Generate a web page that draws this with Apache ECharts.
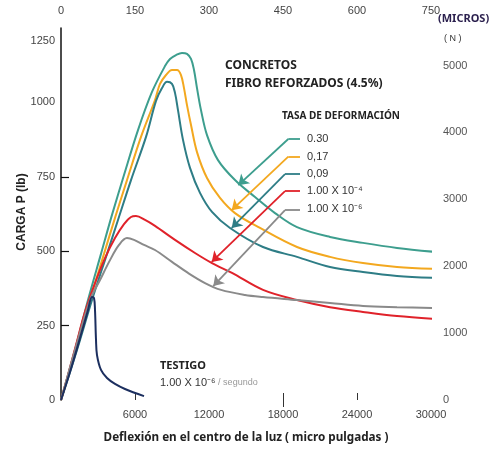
<!DOCTYPE html>
<html>
<head>
<meta charset="utf-8">
<script src="https://cdn.jsdelivr.net/npm/echarts@6/dist/echarts.min.js"></script>
<style>
html,body{margin:0;padding:0;background:#fff;}
#c{width:498px;height:449px;}
</style>
</head>
<body>
<div id="c"></div>
<script>
// ---- data (deflexión en micro pulgadas, carga en lb) ----
const xTickLabels = [6000, 12000, 18000, 24000, 30000];
const topTickLabels = [0, 150, 300, 450, 600, 750];
const yTickLabels = [0, 250, 500, 750, 1000, 1250];
const rightTickLabels = [0, 1000, 2000, 3000, 4000, 5000];

const rate030 = [[0,0],[1135,168],[2189,336],[3243,491],[4135,622],[5108,756],[6243,907],[7378,1035],[8432,1122],[8838,1146],[9324,1159],[9811,1166],[10216,1163],[10541,1146],[10784,1109],[11027,1048],[11351,974],[11838,890],[12730,806],[14108,739],[15730,682],[17351,628],[19135,581],[21811,548],[24486,528],[27243,511],[30486,497]];
const rate017 = [[0,0],[1216,168],[2351,336],[3486,491],[4378,612],[5351,739],[6486,884],[7622,1008],[8027,1062],[8513,1092],[9000,1109],[9405,1109],[9730,1092],[9973,1048],[10216,991],[10541,924],[11027,833],[11838,746],[12892,679],[14108,628],[16135,578],[19135,514],[21811,481],[24486,460],[27243,447],[30486,440]];
const rate009 = [[0,0],[1297,168],[2514,336],[3730,491],[4622,605],[5676,739],[6892,884],[7703,1005],[8189,1048],[8595,1069],[9000,1062],[9243,1032],[9486,974],[9892,874],[10459,780],[11270,696],[12243,632],[13703,578],[16378,514],[19135,481],[21811,447],[24486,430],[27243,417],[30486,410]];
const rateE4 = [[0,0],[568,84],[1216,185],[1946,296],[2757,393],[3568,477],[4378,544],[5108,591],[5676,615],[6081,618],[6811,605],[7622,585],[9243,538],[10865,494],[12243,460],[13865,427],[16378,370],[19135,336],[21811,312],[24486,296],[27243,282],[30486,272]];
const rateE6 = [[0,0],[1135,168],[2351,336],[3162,403],[3973,470],[4703,521],[5351,544],[5919,538],[6730,521],[7622,504],[8999,464],[10297,427],[11676,393],[12973,370],[14919,353],[16378,346],[19135,336],[21811,326],[24486,316],[27243,312],[30486,309]];
const testigo = [[0,0],[730,94],[1541,208],[2189,302],[2514,346],[2676,343],[2757,302],[2838,202],[2919,151],[3243,101],[3730,74],[4378,54],[5189,37],[6730,13]];

// leader lines for the rate labels: [start of horizontal, bend, arrow tip]
const leaderEnd = 19378;
const leaderBend = [[18430,877],[18430,818],[18162,759],[18162,702],[18162,638]];
const leaderTip = [[14376,722],[13841,638],[13841,578],[12219,464],[12349,383]];
const rateLabels = ['0.30', '0,17', '0,09', '1.00 X 10\u207B\u2074', '1.00 X 10\u207B\u2076'];

const colors = ['#3d9e8e', '#f3a81f', '#2e7d86', '#e0222a', '#8a8a8a', '#1c2f5f'];
const seriesData = [rate030, rate017, rate009, rateE4, rateE6, testigo];
const seriesNames = ['0.30', '0,17', '0,09', '1.00E-4', '1.00E-6', 'TESTIGO'];

const FONT = "'Liberation Sans Narrow','Liberation Sans',Arial,sans-serif";
const chart = echarts.init(document.getElementById('c'), null, {renderer: 'canvas'});

const lineSeries = seriesData.map((d, i) => ({
  name: seriesNames[i], type: 'line', data: d, showSymbol: false, smooth: 0.35,
  clip: false, lineStyle: {color: colors[i], width: 2}, itemStyle: {color: colors[i]}, z: 3
}));

const horiz = {
  type: 'lines', coordinateSystem: 'cartesian2d', symbol: 'none', z: 4,
  data: leaderBend.map((b, i) => ({coords: [b, [leaderEnd, b[1]]], lineStyle: {color: colors[i], width: 1.8, opacity: 1}}))
};
const diag = {
  type: 'lines', coordinateSystem: 'cartesian2d', symbol: ['none', 'arrow'], symbolSize: 10, z: 4,
  data: leaderBend.map((b, i) => ({coords: [b, leaderTip[i]], lineStyle: {color: colors[i], width: 1.8, opacity: 1}}))
};

const fmt = v => String(v);
const option = {
  animation: false,
  backgroundColor: '#fff',
  grid: {left: 61, top: 28, width: 370, height: 372, containLabel: false},
  xAxis: [{
    type: 'value', min: 0, max: 30000, interval: 6000, position: 'bottom',
    axisLine: {show: false}, splitLine: {show: false},
    axisTick: {show: true, customValues: [18000], length: 7, lineStyle: {color: '#333', width: 1}},
    axisLabel: {customValues: xTickLabels, formatter: fmt, margin: 9, fontSize: 11, color: '#444', fontFamily: FONT}
  }, {
    type: 'value', min: 0, max: 750, interval: 150, position: 'top',
    axisLine: {show: false}, splitLine: {show: false},
    axisTick: {show: true, customValues: [150, 450, 600], length: 7, lineStyle: {color: '#333', width: 1}},
    axisLabel: {customValues: topTickLabels, formatter: fmt, margin: 12, fontSize: 11, color: '#444', fontFamily: FONT}
  }],
  yAxis: [{
    type: 'value', min: 0, max: 1250, interval: 250, position: 'left',
    axisLine: {show: true, lineStyle: {color: '#111', width: 1.5}}, splitLine: {show: false},
    axisTick: {show: true, inside: true, customValues: [250, 500, 750], length: 8, lineStyle: {color: '#111', width: 1.2}},
    axisLabel: {customValues: yTickLabels, margin: 6, fontSize: 11, color: '#444', fontFamily: FONT,
      formatter: v => v === 1250 ? '{low|1250}' : String(v),
      rich: {low: {padding: [26, 0, 0, 0], fontSize: 11, color: '#444', fontFamily: FONT}}}
  }, {
    type: 'value', min: 0, max: 1250 * 4.44822, position: 'right',
    axisLine: {show: false}, splitLine: {show: false}, axisTick: {show: false},
    axisLabel: {customValues: rightTickLabels, formatter: fmt, margin: 12, fontSize: 11, color: '#555', fontFamily: FONT}
  }],
  series: lineSeries.concat([horiz, diag]),
  graphic: [
    {type: 'text', x: 22, y: 212, rotation: Math.PI / 2, style: {text: 'CARGA P (lb)', font: "bold 12px 'Liberation Sans',Arial,sans-serif", fill: '#222', align: 'center', verticalAlign: 'middle'}},
    {type: 'text', x: 246, y: 438, style: {text: 'Deflexión en el centro de la luz ( micro pulgadas )', font: "bold 11.7px 'Noto Sans',sans-serif", fill: '#222', align: 'center', verticalAlign: 'middle'}},
    {type: 'text', x: 438, y: 19, style: {text: '(MICROS)', font: "bold 11px 'Noto Sans',sans-serif", fill: '#2a1f4d', align: 'left', verticalAlign: 'middle'}},
    {type: 'text', x: 444, y: 39, style: {text: '( N )', font: "9px 'Liberation Sans',sans-serif", fill: '#333', align: 'left', verticalAlign: 'middle'}},
    {type: 'text', x: 225, y: 66, style: {text: 'CONCRETOS', font: "bold 12px 'Noto Sans',sans-serif", fill: '#222', verticalAlign: 'middle'}},
    {type: 'text', x: 225, y: 84, style: {text: 'FIBRO REFORZADOS (4.5%)', font: "bold 12px 'Noto Sans',sans-serif", fill: '#222', verticalAlign: 'middle'}},
    {type: 'text', x: 282, y: 116, style: {text: 'TASA DE DEFORMACIÓN', font: "bold 10px 'Noto Sans',sans-serif", fill: '#222', verticalAlign: 'middle'}},
    {type: 'text', x: 160, y: 366, style: {text: 'TESTIGO', font: "bold 11px 'Noto Sans',sans-serif", fill: '#222', verticalAlign: 'middle'}},
    {type: 'text', x: 160, y: 383, style: {text: '{a|1.00 X 10\u207B\u2076}{b| / segundo}', verticalAlign: 'middle',
      rich: {a: {font: "11px " + FONT, fill: '#333'}, b: {font: "9px " + FONT, fill: '#999'}}}}
  ].concat(rateLabels.map((t, i) => ({
    type: 'text', x: 307, y: [139, 157, 174, 191, 209][i],
    style: {text: t, font: "11px " + FONT, fill: '#333', verticalAlign: 'middle'}
  })))
};
chart.setOption(option);
</script>
</body>
</html>
